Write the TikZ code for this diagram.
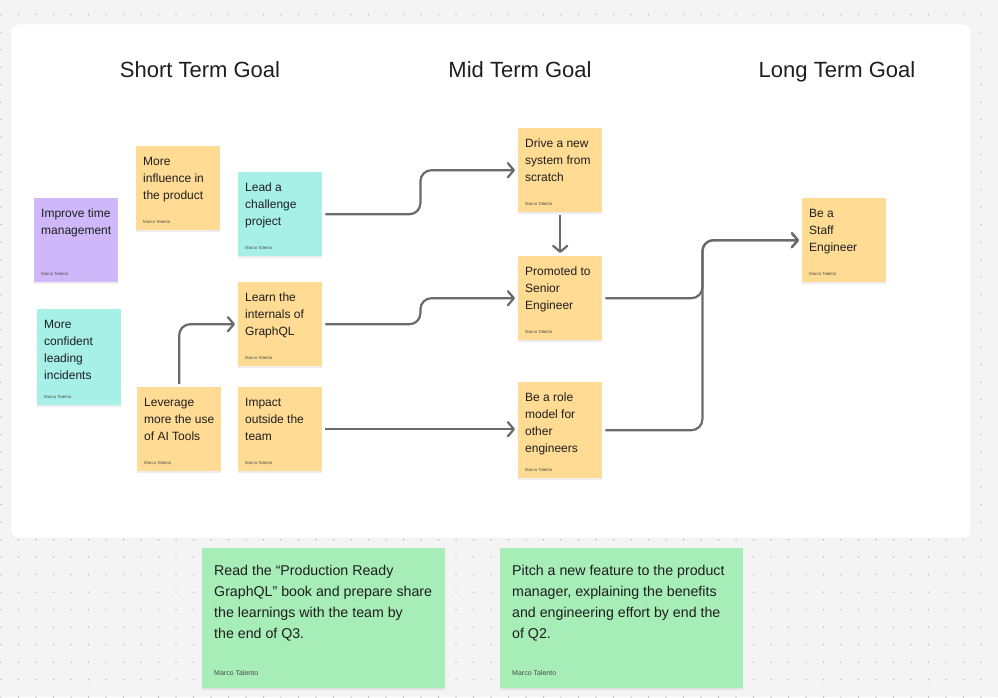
\documentclass[tikz,border=0pt]{standalone}
\usepackage{fontspec}
\setmainfont{Liberation Sans}
\usepackage{tikz}
\usetikzlibrary{arrows.meta,shadows}

\definecolor{bgc}{HTML}{F4F4F4}
\definecolor{dotc}{HTML}{B4B4B4}
\definecolor{yel}{HTML}{FFDB93}
\definecolor{cya}{HTML}{A6F0E7}
\definecolor{pur}{HTML}{CFB8F9}
\definecolor{grn}{HTML}{A7EDB8}
\definecolor{linec}{HTML}{6A6A6A}
\definecolor{ink}{HTML}{1E1E1E}

\begin{document}
\begin{tikzpicture}[x=1pt,y=-1pt,
  title/.style={font=\fontsize{22}{26}\selectfont,text=ink,anchor=base},
  note/.style={fill=#1,anchor=north west,inner xsep=7pt,inner ysep=0pt,text=ink,
    font=\fontsize{12}{17}\selectfont,
    drop shadow={shadow xshift=0pt,shadow yshift=-1.5pt,opacity=0.07,fill=black}},
  link/.style={draw=linec,line width=2.2pt,rounded corners=11pt,
    shorten <=3pt,shorten >=3pt,-{Straight Barb[length=6pt,width=14pt,round]}}]
\useasboundingbox (0,0) rectangle (998,697);
\fill[bgc] (0,0) rectangle (998,697);
% dotted canvas
\foreach \i in {0,...,57}{
  \foreach \j in {0,...,39}{
    \fill[dotc] (1+17.5*\i,14.7+17.5*\j) circle (0.75);
  }
}
% board
\draw[fill=white,draw=black!10,rounded corners=6pt] (11,24) rectangle (971,538);

\node[title] (short) at (200,77) {Short Term Goal};
\node[title] (mid) at (520,77) {Mid Term Goal};
\node[title] (long) at (837,77) {Long Term Goal};

% sticky notes: name/x/y/height/colour/text
\foreach \nm/\px/\py/\hh/\cl/\tx in {%
  imp/34/198/84/pur/{Improve time\\management},
  infl/136/146/84/yel/{More\\influence in\\the product},
  lead/238/172/84/cya/{Lead a\\challenge\\project},
  conf/37/309/96/cya/{More\\confident\\leading\\incidents},
  learn/238/282/84/yel/{Learn the\\internals of\\GraphQL},
  lev/137/387/84/yel/{Leverage\\more the use\\of AI Tools},
  impact/238/387/84/yel/{Impact\\outside the\\team},
  drive/518/128/84/yel/{Drive a new\\system from\\scratch},
  prom/518/256/84/yel/{Promoted to\\Senior\\Engineer},
  role/518/382/96/yel/{Be a role\\model for\\other\\engineers},
  staff/802/198/84/yel/{Be a\\Staff\\Engineer}} {
  \node[note=\cl] (\nm) at (\px,\py) {\parbox[t][\hh pt][t]{70pt}{\raggedright
    \rule{0pt}{19.5pt}\tx\par\vfill
    {\fontsize{4.3}{5}\selectfont\color{ink!80}Marco Talento}\par\vspace{7pt}}};
}

\node[note=grn,inner xsep=12pt] (read) at (202,548) {\parbox[t][140pt][t]{219pt}{\raggedright
  \fontsize{14.2}{21}\selectfont\rule{0pt}{27pt}Read the “Production Ready\\GraphQL” book and prepare share\\the learnings with the team by\\the end of Q3.\par\vfill
  {\fontsize{7}{8}\selectfont\color{ink!80}Marco Talento}\par\vspace{13pt}}};
\node[note=grn,inner xsep=12pt] (pitch) at (500,548) {\parbox[t][140pt][t]{219pt}{\raggedright
  \fontsize{14.2}{21}\selectfont\rule{0pt}{27pt}Pitch a new feature to the product\\manager, explaining the benefits\\and engineering effort by end the\\of Q2.\par\vfill
  {\fontsize{7}{8}\selectfont\color{ink!80}Marco Talento}\par\vspace{13pt}}};

% connectors
\draw[link] (lead.east) -- ++(98,0) |- (drive.west);
\draw[link] (learn.east) -- ++(98,0) |- (prom.west);
\draw[link] (impact.east) -- (impact.east -| role.west);
\draw[link] (lev.north) |- (learn.west);
\draw[link] (drive.south) -- (prom.north);
\draw[link] (prom.east) -- ++(100,0) |- (staff.west);
\draw[link] (role.east) -- ++(100,0) |- (staff.west);
\end{tikzpicture}
\end{document}
